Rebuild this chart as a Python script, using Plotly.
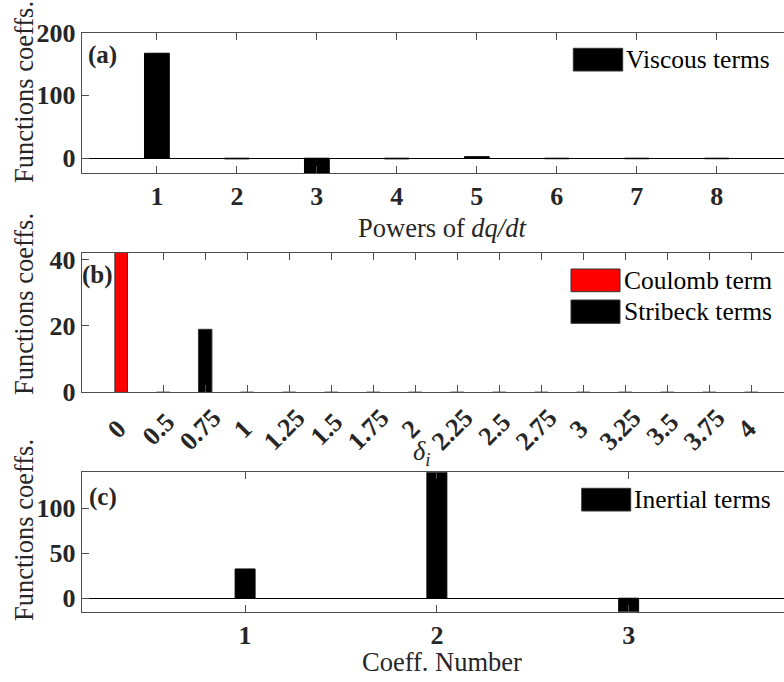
import plotly.graph_objects as go

# ---- data -------------------------------------------------------------
viscous_powers = [1, 2, 3, 4, 5, 6, 7, 8]
viscous_coeffs = [167, -1.0, -30, -1.0, 2.5, -0.8, -0.8, -0.8]

delta_labels = ["0", "0.5", "0.75", "1", "1.25", "1.5", "1.75", "2", "2.25",
                "2.5", "2.75", "3", "3.25", "3.5", "3.75", "4"]
coulomb_cat = ["0"]
coulomb_coeffs = [44]
stribeck_cat = delta_labels[1:]
stribeck_coeffs = [0, 19, 0, 0, 0, 0, 0, 0, 0, 0, 0, 0, 0, 0, 0]

inertial_number = [1, 2, 3]
inertial_coeffs = [32.5, 150, -20]

# ---- styling ----------------------------------------------------------
W, H = 784, 682
SERIF = "'Liberation Serif', 'Times New Roman', Times, serif"
TITLE_FONT = dict(family=SERIF, size=26.5, color="#262626")
LEG_FONT = dict(family=SERIF, size=25.5, color="black")
TICK_FONT = dict(family=SERIF, size=26, color="#262626", weight="bold")
AX_COL = "#4d4d4d"


def py(pix):
    """Convert a pixel row (from top) into a paper y fraction."""
    return 1 - pix / H


def px(pix):
    return pix / W


fig = go.Figure()

fig.add_trace(go.Bar(x=viscous_powers, y=viscous_coeffs, width=0.31,
                     marker=dict(color="black", line=dict(color="black", width=1)),
                     xaxis="x", yaxis="y", showlegend=False))
fig.add_trace(go.Bar(x=coulomb_cat, y=coulomb_coeffs, width=0.3,
                     marker=dict(color="#ff0000", line=dict(color="#333333", width=1)),
                     xaxis="x2", yaxis="y2", showlegend=False))
fig.add_trace(go.Bar(x=stribeck_cat, y=stribeck_coeffs, width=0.32,
                     marker=dict(color="black", line=dict(color="#333333", width=1)),
                     xaxis="x2", yaxis="y2", showlegend=False))
fig.add_trace(go.Bar(x=inertial_number, y=inertial_coeffs, width=0.104,
                     marker=dict(color="black", line=dict(color="black", width=1)),
                     xaxis="x3", yaxis="y3", showlegend=False))

xdom = [px(81.7), 1.0]
common_x = dict(domain=xdom, showline=True, linecolor=AX_COL, linewidth=1,
                mirror="ticks", ticks="inside", ticklen=7, tickcolor=AX_COL,
                tickfont=TICK_FONT, showgrid=False, zeroline=False,
                layer="above traces", automargin=False)
common_y = dict(showline=True, linecolor=AX_COL, linewidth=1, mirror=False,
                ticks="inside", ticklen=7, tickcolor=AX_COL, tickfont=TICK_FONT,
                showgrid=False, zeroline=True, zerolinecolor="black", zerolinewidth=1,
                layer="above traces", automargin=False)

fig.update_layout(
    template="none",
    width=W, height=H, margin=dict(l=0, r=0, t=0, b=0, pad=0),
    paper_bgcolor="white", plot_bgcolor="white", barmode="overlay",
    xaxis=dict(common_x, anchor="y", range=[0.06, 8.84],
               tickvals=viscous_powers, ticktext=[str(v) for v in viscous_powers]),
    yaxis=dict(common_y, anchor="x", domain=[py(173), py(32.5)], range=[-23.5, 200],
               tickvals=[0, 100, 200]),
    xaxis2=dict(common_x, anchor="y2", type="category", range=[-0.94, 15.78],
                categoryorder="array", categoryarray=delta_labels,
                showticklabels=False),
    yaxis2=dict(common_y, anchor="x2", domain=[py(392.3), py(252.7)], range=[0, 42.1],
                tickvals=[0, 20, 40]),
    xaxis3=dict(common_x, anchor="y3", range=[0.148, 3.81],
                tickvals=inertial_number, ticktext=[str(v) for v in inertial_number]),
    yaxis3=dict(common_y, anchor="x3", domain=[py(611.7), py(472.3)], range=[-15, 140],
                tickvals=[0, 50, 100]),
)

annotations = []
shapes = []

# rotated tick labels of the delta axis, each centred under its category index
for idx, lab in enumerate(delta_labels):
    annotations.append(dict(text=f"<b>{lab}</b>", x=idx, xref="x2", xshift=-5,
                            y=py(429), yref="paper", textangle=-45, showarrow=False,
                            xanchor="center", yanchor="middle",
                            font=dict(family=SERIF, size=26, color="#262626")))

# y-axis titles
for yc in (92, 304, 530):
    annotations.append(dict(text="Functions coeffs.", x=px(24), y=py(yc), xref="paper",
                            yref="paper", textangle=-90, showarrow=False,
                            xanchor="center", yanchor="middle", font=TITLE_FONT))

# x-axis titles
annotations.append(dict(text="Powers of <i>dq/dt</i>", x=px(442), y=py(228), xref="paper",
                        yref="paper", showarrow=False, xanchor="center", yanchor="middle",
                        font=TITLE_FONT))
annotations.append(dict(text="<i>δ<sub>i</sub></i>", x=px(421), y=py(453), xref="paper",
                        yref="paper", showarrow=False, xanchor="center", yanchor="middle",
                        font=TITLE_FONT))
annotations.append(dict(text="Coeff. Number", x=px(442), y=py(662), xref="paper",
                        yref="paper", showarrow=False, xanchor="center", yanchor="middle",
                        font=TITLE_FONT))

# panel tags
for tag, xl, yc in (("(a)", 86, 55), ("(b)", 80, 275), ("(c)", 87, 497)):
    annotations.append(dict(text=f"<b>{tag}</b>", x=px(xl), y=py(yc), xref="paper",
                            yref="paper", showarrow=False, xanchor="left", yanchor="middle",
                            font=dict(family=SERIF, size=25, color="#262626")))

# legends drawn as swatch + label
legend_items = [
    ("Viscous terms", "black", 573.3, 622.7, 48.3, 71.0, 624.0),
    ("Coulomb term", "#ff0000", 571.0, 620.0, 269.0, 291.7, 622.0),
    ("Stribeck terms", "black", 571.0, 620.0, 300.0, 323.3, 622.0),
    ("Inertial terms", "black", 581.7, 630.7, 488.3, 511.0, 632.0),
]
for label, col, x0, x1, y0, y1, xt in legend_items:
    shapes.append(dict(type="rect", xref="paper", yref="paper",
                       x0=px(x0), x1=px(x1), y0=py(y1), y1=py(y0),
                       fillcolor=col, line=dict(color="#333333", width=1)))
    annotations.append(dict(text=label, x=px(xt), y=py((y0 + y1) / 2), xref="paper",
                            yref="paper", showarrow=False, xanchor="left",
                            yanchor="middle", font=LEG_FONT))

fig.update_layout(annotations=annotations, shapes=shapes)

fig.write_html("out.html")
